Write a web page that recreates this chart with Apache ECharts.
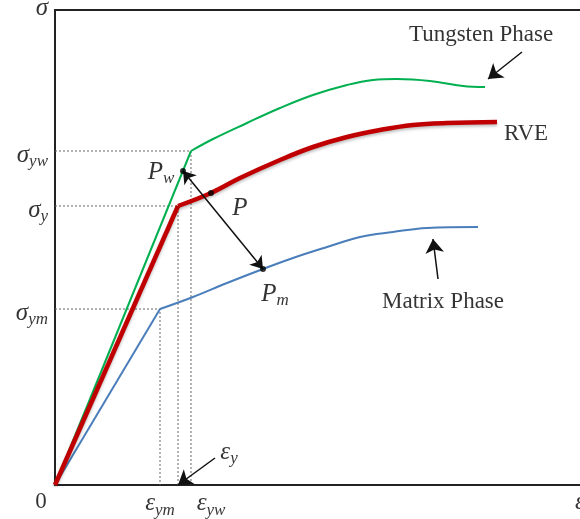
<!DOCTYPE html>
<html>
<head>
<meta charset="utf-8">
<script src="https://cdn.jsdelivr.net/npm/echarts@6/dist/echarts.min.js"></script>
<style>
  html, body { margin: 0; padding: 0; background: #fff; }
  #chart { width: 580px; height: 519px; }
</style>
</head>
<body>
<div id="chart"></div>
<script>
// stress-strain curves (arbitrary units)
var tungstenStrain = [0, 136, 158, 192, 225, 258, 292, 318, 342, 375, 408, 430];
var tungstenStress = [0, 334, 346, 362, 377, 390, 400, 405, 406, 404, 399, 398];
var rveStrain = [0, 123, 156, 185, 225, 258, 292, 325, 358, 392, 442];
var rveStress = [0, 279, 292, 307, 325, 338, 348, 355, 360, 362, 363];
var matrixStrain = [0, 105, 138, 172, 208, 238, 272, 305, 338, 372, 423];
var matrixStress = [0, 176, 188, 202, 216, 227, 238, 248, 253, 257, 258];
// marked points Pw, P, Pm
var pointW = [128, 314];
var pointP = [156, 292];
var pointM = [208, 216];

var chart = echarts.init(document.getElementById('chart'));

function pairs(xs, ys, from, to) {
    var out = [];
    for (var i = from; i < to; i++) out.push([xs[i], ys[i]]);
    return out;
}
// elastic part (straight) and plastic part (smooth) of each curve
function curve(xs, ys, color, width, extra) {
    var base = { type: 'line', symbol: 'none', silent: true, z: 3,
        lineStyle: Object.assign({ color: color, width: width }, extra || {}) };
    return [
        Object.assign({}, base, { data: pairs(xs, ys, 0, 2) }),
        Object.assign({}, base, { data: pairs(xs, ys, 1, xs.length), smooth: 0.4 })
    ];
}
// dotted guide from y axis to the yield point then down to x axis
function guide(xs, ys) {
    return { type: 'line', symbol: 'none', silent: true, z: 1,
        data: [[0, ys[1]], [xs[1], ys[1]], [xs[1], 0]],
        lineStyle: { color: '#666', width: 1, type: [2, 2] } };
}

var serif = "'Liberation Serif', 'DejaVu Serif', serif";
var rich = {
    i: { fontFamily: serif, fontStyle: 'italic', fontSize: 25, color: '#000' },
    sub: { fontFamily: serif, fontStyle: 'italic', fontSize: 17, color: '#000', padding: [14, 0, 0, 0] },
    r: { fontFamily: serif, fontSize: 23, color: '#000' }
};
function txt(x, y, f, pos, offset) {
    return { value: [x, y], label: { show: true, formatter: f, position: pos || 'inside',
        offset: offset || [0, 0], rich: rich } };
}

var texts = [
    txt(0, 475, '{i|σ}', 'left', [-2, -2]),
    txt(0, tungstenStress[1], '{i|σ}{sub|yw}', 'left', [-2, 4]),
    txt(0, rveStress[1], '{i|σ}{sub|y}', 'left', [-2, 4]),
    txt(0, matrixStress[1], '{i|σ}{sub|ym}', 'left', [-2, 4]),
    txt(0, 0, '{r|0}', 'bottom', [-14, 0]),
    txt(matrixStrain[1], 0, '{i|ε}{sub|ym}', 'bottom', [0, -2]),
    txt(tungstenStrain[1], 0, '{i|ε}{sub|yw}', 'bottom', [20, -2]),
    txt(525, 0, '{i|ε}', 'bottom', [0, 0]),
    txt(174, 33, '{i|ε}{sub|y}'),
    txt(106, 313, '{i|P}{sub|w}'),
    txt(185, 277, '{i|P}'),
    txt(220, 191, '{i|P}{sub|m}'),
    txt(426, 450, '{r|Tungsten Phase}'),
    txt(471, 351, '{r|RVE}'),
    txt(388, 183, '{r|Matrix Phase}')
];

var series = [].concat(
    guide(tungstenStrain, tungstenStress),
    guide(rveStrain, rveStress),
    guide(matrixStrain, matrixStress),
    curve(matrixStrain, matrixStress, '#4A7EBB', 2),
    curve(tungstenStrain, tungstenStress, '#00B050', 2),
    curve(rveStrain, rveStress, '#C00000', 4.5, { shadowColor: 'rgba(0,0,0,0.25)', shadowBlur: 3, shadowOffsetY: 2 }),
    [{
        type: 'scatter', silent: true, z: 5, symbolSize: 6,
        itemStyle: { color: '#000' },
        data: [pointW, pointP, pointM],
        markLine: {
            silent: true, animation: false,
            lineStyle: { color: '#111', width: 1.5, type: 'solid' },
            label: { show: false },
            data: [
                [{ coord: pointW, symbol: 'arrow', symbolSize: 12 }, { coord: pointM, symbol: 'arrow', symbolSize: 12 }],
                [{ coord: [160, 27], symbol: 'none' }, { coord: [rveStrain[1], 0], symbol: 'arrow', symbolSize: 14 }],
                [{ coord: [467, 433], symbol: 'none' }, { coord: [433, 406], symbol: 'arrow', symbolSize: 14 }],
                [{ coord: [383, 206], symbol: 'none' }, { coord: [378, 246], symbol: 'arrow', symbolSize: 14 }]
            ]
        }
    }, {
        type: 'scatter', silent: true, z: 6, symbolSize: 0, clip: false,
        itemStyle: { color: 'transparent' },
        data: texts
    }]
);

var option = {
    animation: false,
    backgroundColor: '#fff',
    grid: { left: 55, right: 0, top: 10, bottom: 34, containLabel: false, outerBoundsMode: 'none' },
    xAxis: [{
        type: 'value', min: 0, max: 525,
        axisLine: { show: true, onZero: false, lineStyle: { color: '#222', width: 2 } },
        axisTick: { show: false }, axisLabel: { show: false }, splitLine: { show: false }
    }, {
        type: 'value', min: 0, max: 525, position: 'top',
        axisLine: { show: true, onZero: false, lineStyle: { color: '#222', width: 2 } },
        axisTick: { show: false }, axisLabel: { show: false }, splitLine: { show: false }
    }],
    yAxis: {
        type: 'value', min: 0, max: 475,
        axisLine: { show: true, onZero: false, lineStyle: { color: '#222', width: 2 } },
        axisTick: { show: false }, axisLabel: { show: false }, splitLine: { show: false }
    },
    series: series
};
chart.setOption(option);
</script>
</body>
</html>
